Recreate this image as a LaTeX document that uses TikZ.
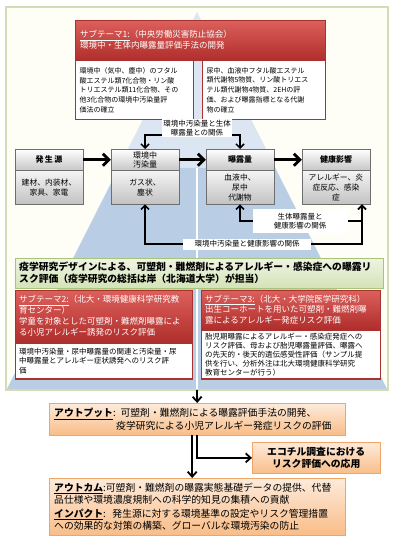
\documentclass[tikz,border=0pt]{standalone}
\usepackage{fontspec}
\newfontfamily\jpfont{Noto Sans CJK JP}
\usetikzlibrary{arrows.meta,positioning}
\definecolor{panelfill}{HTML}{FEFEF7}
\definecolor{panelline}{HTML}{D3DCB4}
\definecolor{pyrlight}{HTML}{DCE6F2}
\definecolor{pyrdark}{HTML}{B9CDE5}
\definecolor{redtop}{HTML}{DC605C}
\definecolor{redbot}{HTML}{B02E2B}
\definecolor{redline}{HTML}{A8322F}
\definecolor{grayline}{HTML}{6E6E6E}
\definecolor{greentop}{HTML}{EEF4E2}
\definecolor{greenbot}{HTML}{D4E3B7}
\definecolor{greenline}{HTML}{A9C47A}
\definecolor{orangetop}{HTML}{FDEBDC}
\definecolor{orangebot}{HTML}{F9BD88}
\definecolor{orangeline}{HTML}{EFA468}

\begin{document}
\begin{tikzpicture}[>={Straight Barb[length=4pt,width=8pt]}, x=1pt, y=-1pt]
	\tikzset{
		redhead/.style={draw=redline, top color=redtop, bottom color=redbot, text=white, anchor=north west, align=left, inner sep=4pt,
				font=\jpfont\fontsize{8.5}{11}\selectfont},
		subbody/.style={draw=redline, fill=white, align=left, inner sep=3pt, line width=1.2pt,
				font=\jpfont\fontsize{7.5}{9.3}\selectfont},
		prochead/.style={draw=grayline, top color=white, bottom color=black!22, anchor=north, minimum width=68pt, minimum height=21pt,
				inner sep=1pt, align=center, font=\jpfont\fontsize{8}{8.8}\selectfont},
		procbody/.style={draw=grayline, top color=black!4, bottom color=black!24, anchor=north, minimum width=68pt, minimum height=34pt,
				inner sep=1pt, align=center, font=\jpfont\fontsize{7.8}{10}\selectfont},
		greenbox/.style={draw=greenline, top color=greentop, bottom color=greenbot, anchor=north west, align=left, inner sep=4pt,
				font=\jpfont\bfseries\fontsize{9.8}{12}\selectfont},
		orangebox/.style={draw=orangeline, top color=orangetop, bottom color=orangebot, anchor=north west, align=left, inner sep=5pt,
				font=\jpfont\fontsize{9.8}{10.5}\selectfont},
		relabel/.style={fill=white, inner sep=1pt, align=center, font=\jpfont\fontsize{7.5}{8.5}\selectfont},
		conn/.style={line width=1.5pt},
		bigarrow/.style={-{Straight Barb[length=6pt,width=12pt]}, line width=2.8pt},
		midarrow/.style={-{Straight Barb[length=5pt,width=9pt]}, line width=1.8pt},
	}
	\fill[white] (0,0) rectangle (400,548);
	\useasboundingbox (0,0) rectangle (400,548);
	\draw[panelline, fill=panelfill, line width=1.5pt] (6,7) rectangle (388,390);
	\fill[pyrlight] (197,12) -- (7,389) -- (387,389) -- cycle;
	\fill[pyrdark] (119,168) -- (7,389) -- (387,389) -- (275,168) -- cycle;
	\draw[white, line width=2pt] (197,168) -- (197,389);

	\node[redhead, minimum width=250pt, minimum height=40pt, text width=240pt] (sub1) at (75,20)
		{\underline{サブテーマ1:}（中央労働災害防止協会）\\環境中・生体内曝露量評価手法の開発};
	\node[subbody, anchor=north west, line width=1pt, minimum width=118pt, minimum height=59pt, text width=110pt,
		font=\jpfont\fontsize{7}{9.7}\selectfont] (sub1-l) at (75,60)
		{環境中（気中、塵中）のフタル\\酸エステル類7化合物・リン酸\\トリエステル類11化合物、その\\他3化合物の環境中汚染量評\\価法の確立};
	\node[subbody, anchor=north west, line width=1pt, minimum width=123pt, minimum height=59pt, text width=115pt,
		font=\jpfont\fontsize{7}{9.7}\selectfont] (sub1-r) at (202,60)
		{尿中、血液中フタル酸エステル\\類代謝物5物質、リン酸トリエス\\テル類代謝物4物質、2EHの評\\価、および曝露指標となる代謝\\物の確立};

	\foreach \n/\x/\hd/\bd in {src/49/{\textbf{発\,生\,源}}/{建材、内装材、\\家具、家電},
			env/145/{環境中\\汚染量}/{ガス状、\\塵状},
			exp/240/{\textbf{曝露量}}/{血液中、\\尿中\\代謝物},
			hlth/336/{\textbf{健康影響}}/{アレルギー、炎\\症反応、感染\\症}}
		{
			\node[prochead] (\n-h) at (\x,149) {\hd};
			\node[procbody] (\n-b) at (\x,170) {\bd};
		}
	\foreach \a/\b in {src/env,env/exp,exp/hlth}
		{
			\draw[bigarrow] (\a-h.east) -- (\b-h.west);
		}

	\coordinate (topbend) at (197,135);
	\draw[conn, <->] (env-h.north) |- (topbend) -| (exp-h.north);
	\node[relabel] (rel-top) at (197,128) {環境中汚染量と生体\\曝露量との関係};

	\coordinate (botbend) at (250,244);
	\coordinate (midbend) at (300,221);
	\coordinate (hlth-in) at ([xshift=26pt]hlth-b.south);
	\draw[conn, <->] (env-b.south) |- (botbend) -| (hlth-in);
	\draw[conn, <->] (exp-b.south) |- (midbend) -| (hlth-in);
	\node[relabel, minimum width=95pt, minimum height=24pt] (rel-mid) at (300,221) {生体曝露量と\\健康影響の関係};
	\node[relabel, minimum width=128pt, minimum height=11pt] (rel-bot) at (247,244) {環境中汚染量と健康影響の関係};

	\node[greenbox, minimum width=368pt, minimum height=29pt, text width=360pt] (design) at (15,258)
		{疫学研究デザインによる、可塑剤・難燃剤によるアレルギー・感染症への曝露リ\\スク評価（疫学研究の総括は岸（北海道大学）が担当）};

	\node[redhead, minimum width=177pt, minimum height=52pt, text width=169pt] (sub2) at (15,290)
		{\underline{サブテーマ2:}（北大・環境健康科学研究教\\育センター）\\学童を対象とした可塑剤・難燃剤曝露によ\\る小児アレルギー誘発のリスク評価};
	\node[subbody, below=0pt of sub2, minimum width=177pt, minimum height=36pt, text width=169pt] (sub2-b)
		{環境中汚染量・尿中曝露量の関連と汚染量・尿\\中曝露量とアレルギー症状誘発へのリスク評\\価};
	\node[redhead, minimum width=179pt, minimum height=39pt, text width=171pt,
		font=\jpfont\fontsize{8.5}{10.5}\selectfont] (sub3) at (201,290)
		{\underline{サブテーマ3:}（北大・大学院医学研究科）\\出生コーホートを用いた可塑剤・難燃剤曝\\露によるアレルギー発症リスク評価};
	\node[subbody, below=0pt of sub3, minimum width=179pt, minimum height=49pt, text width=171pt, inner ysep=2pt,
		font=\jpfont\fontsize{7.5}{9.1}\selectfont] (sub3-b)
		{胎児期曝露によるアレルギー・感染症発症への\\リスク評価、母および胎児曝露量評価、曝露へ\\の先天的・後天的遺伝感受性評価（サンプル提\\供を行い、分析外注は北大環境健康科学研究\\教育センターが行う）};

	\coordinate (panel-s) at (197,390);
	\node[orangebox, minimum width=296pt, minimum height=31pt, text width=286pt] (outp) at (49,403)
		{\underline{\textbf{アウトプット}}: 可塑剤・難燃剤による曝露評価手法の開発、\\\hspace*{62pt}疫学研究による小児アレルギー発症リスクの評価};
	\node[orangebox, align=center, minimum width=128pt, minimum height=28pt,
		font=\jpfont\bfseries\fontsize{9.8}{12}\selectfont] (eco) at (252,442)
		{エコチル調査における\\リスク評価への応用};
	\node[orangebox, minimum width=296pt, minimum height=56pt, text width=286pt] (outc) at (49,478)
		{\underline{\textbf{アウトカム}}:可塑剤・難燃剤の曝露実態基礎データの提供、代替\\品仕様や環境濃度規制への科学的知見の集積への貢献\\[3pt]\underline{\textbf{インパクト}}:\ \ 発生源に対する環境基準の設定やリスク管理措置\\への効果的な対策の構築、グローバルな環境汚染の防止};

	\draw[midarrow] (panel-s) -- (outp.north);
	\draw[midarrow] ([xshift=-5pt]outp.south) -- ([xshift=-5pt]outc.north);
	\draw[midarrow] (outp.south) |- (eco.west);
\end{tikzpicture}
\end{document}
